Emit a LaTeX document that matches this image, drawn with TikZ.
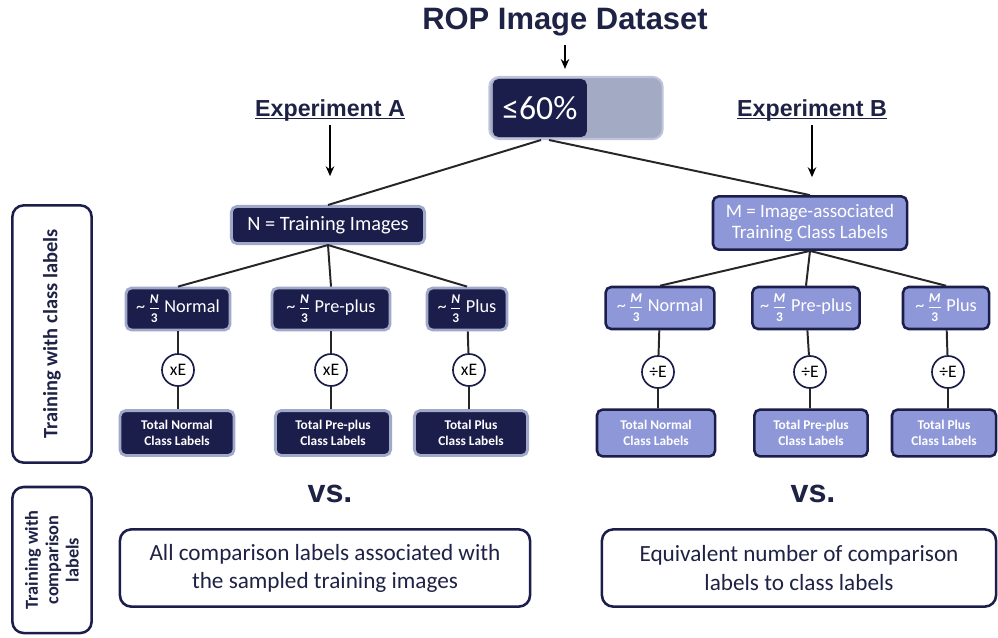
\documentclass[tikz,border=0pt]{standalone}
\usepackage{fontspec}
\setmainfont{Carlito}
\newfontfamily\headfont{Liberation Sans}
\usetikzlibrary{positioning,arrows.meta}

\definecolor{navy}{HTML}{1B1E4B}
\definecolor{lilac}{HTML}{8E98D8}
\definecolor{halo}{HTML}{A1A9CB}
\definecolor{greybar}{HTML}{A3AAC3}
\definecolor{inkblue}{HTML}{1E2245}

% approx. one third of a count, as a small stacked fraction
\newcommand{\thirdof}[1]{\textasciitilde\kern2pt$\frac{\hbox{\bfseries\fontsize{9.5}{9.5}\selectfont\itshape #1\rule[-2.5pt]{0pt}{0pt}}}{\hbox{\bfseries\fontsize{9.5}{9.5}\selectfont 3\rule{0pt}{10pt}}}$}
% underline that sits on the baseline
\newcommand{\headline}[1]{\underline{\raisebox{0pt}[\height][0pt]{#1}}}

\begin{document}
\begin{tikzpicture}[
    x=0.025cm, y=-0.025cm,
    darkbox/.style = {
        rectangle,
        draw=halo,
        line width=2pt,
        fill=navy,
        text=white,
        align=center,
        rounded corners=4pt,
        inner sep=2pt
    },
    lightbox/.style = {
        rectangle,
        draw=navy,
        line width=1.8pt,
        fill=lilac,
        text=white,
        align=center,
        rounded corners=4pt,
        inner sep=2pt
    },
    opcircle/.style = {
        circle,
        draw=navy,
        line width=1.2pt,
        fill=white,
        minimum size=0.8cm,
        inner sep=0pt,
        font=\fontsize{12.5}{14}\selectfont
    },
    framebox/.style = {
        rectangle,
        draw=navy,
        line width=1.8pt,
        fill=white,
        text=inkblue,
        align=center,
        rounded corners=8pt,
        inner sep=2pt
    },
    heading/.style = {
        text=inkblue,
        inner sep=1pt,
        font=\headfont\bfseries
    },
    link/.style = {
        line width=1.4pt,
        draw=black!85
    },
    arrow/.style = {
        -{Stealth[length=7pt,width=6pt]},
        line width=1.4pt,
        draw=black
    }
]
\useasboundingbox (0,0) rectangle (998,637);

% top of the split
\node (title) [heading, font=\headfont\bfseries\fontsize{22}{26}\selectfont] at (565,22) {ROP Image Dataset};

\node (pct) [rectangle, draw=halo!70, line width=1.5pt, fill=greybar, rounded corners=7pt,
    minimum width=4.33cm, minimum height=1.55cm] at (576,108) {};
\node (pctfill) [rectangle, fill=navy, rounded corners=4pt, anchor=west, text=white,
    minimum width=2.35cm, minimum height=1.45cm, inner sep=0pt,
    font=\fontsize{24}{28}\selectfont] at ([xshift=3pt]pct.west) {≤60\%};

\node (expA) [heading, font=\headfont\bfseries\fontsize{16.5}{20}\selectfont] at (330,109) {\headline{Experiment A}};
\node (expB) [heading, font=\headfont\bfseries\fontsize{16.5}{20}\selectfont] at (812,109) {\headline{Experiment B}};

\coordinate (splitL) at (541,140);
\coordinate (splitR) at (549,140);

% experiment A
\node (nimg) [darkbox, minimum width=4.83cm, minimum height=0.93cm,
    font=\fontsize{14.5}{17}\selectfont] at (328,225) {N = Training Images};

\node (nnorm) [darkbox, minimum width=2.6cm, minimum height=1.05cm,
    font=\fontsize{13}{15}\selectfont] at (178,309) {\thirdof{N} Normal};
\node (npre) [darkbox, minimum width=2.95cm, minimum height=1.05cm,
    font=\fontsize{13}{15}\selectfont] at (331,309) {\thirdof{N} Pre-plus};
\node (nplus) [darkbox, minimum width=2.0cm, minimum height=1.05cm,
    font=\fontsize{13}{15}\selectfont] at (467,309) {\thirdof{N} Plus};

\node (nxnorm) [opcircle] at (178,370) {xE};
\node (nxpre) [opcircle] at (331,370) {xE};
\node (nxplus) [opcircle] at (469,370) {xE};

\node (ntnorm) [darkbox, minimum width=2.85cm, minimum height=1.12cm,
    font=\bfseries\fontsize{9.5}{11}\selectfont] at (177,433) {Total Normal\\Class Labels};
\node (ntpre) [darkbox, minimum width=2.88cm, minimum height=1.12cm,
    font=\bfseries\fontsize{9.5}{11}\selectfont] at (333,433) {Total Pre-plus\\Class Labels};
\node (ntplus) [darkbox, minimum width=2.83cm, minimum height=1.12cm,
    font=\bfseries\fontsize{9.5}{11}\selectfont] at (471,433) {Total Plus\\Class Labels};

% experiment B
\node (mlab) [lightbox, minimum width=4.85cm, minimum height=1.33cm,
    font=\fontsize{13.5}{15.5}\selectfont] at (810,223) {M = Image-associated\\Training Class Labels};

\node (mnorm) [lightbox, minimum width=2.72cm, minimum height=1.05cm,
    font=\fontsize{13}{15}\selectfont] at (660,308) {\thirdof{M} Normal};
\node (mpre) [lightbox, minimum width=2.68cm, minimum height=1.05cm,
    font=\fontsize{13}{15}\selectfont] at (806,308) {\thirdof{M} Pre-plus};
\node (mplus) [lightbox, minimum width=2.15cm, minimum height=1.05cm,
    font=\fontsize{13}{15}\selectfont] at (946,308) {\thirdof{M} Plus};

\node (mxnorm) [opcircle] at (658,372) {÷E};
\node (mxpre) [opcircle] at (810,372) {÷E};
\node (mxplus) [opcircle] at (948,372) {÷E};

\node (mtnorm) [lightbox, minimum width=2.95cm, minimum height=1.17cm,
    font=\bfseries\fontsize{9.5}{11}\selectfont] at (656,433) {Total Normal\\Class Labels};
\node (mtpre) [lightbox, minimum width=2.83cm, minimum height=1.17cm,
    font=\bfseries\fontsize{9.5}{11}\selectfont] at (811,433) {Total Pre-plus\\Class Labels};
\node (mtplus) [lightbox, minimum width=2.6cm, minimum height=1.17cm,
    font=\bfseries\fontsize{9.5}{11}\selectfont] at (944,433) {Total Plus\\Class Labels};

% comparison labels
\node (vsA) [heading, font=\headfont\bfseries\fontsize{23}{26}\selectfont] at (330,494) {vs.};
\node (vsB) [heading, font=\headfont\bfseries\fontsize{23}{26}\selectfont] at (813,494) {vs.};

\node (cmpA) [framebox, minimum width=10.25cm, minimum height=1.93cm,
    font=\fontsize{16.5}{20}\selectfont] at (325,568) {All comparison labels associated with\\the sampled training images};
\node (cmpB) [framebox, minimum width=9.85cm, minimum height=1.93cm,
    font=\fontsize{16.5}{20}\selectfont] at (799,568) {Equivalent number of comparison\\labels to class labels};

% row labels
\node (rowclass) [framebox, rotate=90, minimum width=6.43cm, minimum height=1.98cm,
    font=\bfseries\fontsize{14.5}{17}\selectfont] at (52,334) {Training with class labels};
\node (rowcmp) [framebox, rotate=90, minimum width=3.65cm, minimum height=1.98cm,
    font=\bfseries\fontsize{13}{14.5}\selectfont] at (52,560) {Training with\\comparison\\labels};

% connectors
\draw [arrow, shorten <=5pt, shorten >=5pt] (title.south) -- (title.south |- pct.north);
\draw [arrow, shorten <=3pt, shorten >=0.72cm] (expA) -- (expA |- nimg.north);
\draw [arrow, shorten <=3pt, shorten >=0.45cm] (expB) -- (expB |- mlab.north);

\draw [link] (splitL) -- (nimg.north);
\draw [link] (splitR) -- (mlab.north);

\draw [link] (nimg.south) -- (nnorm.north);
\draw [link] (nimg.south) -- (npre.north);
\draw [link] (nimg.south) -- (nplus.north);
\draw [link] (nnorm) -- (nxnorm) -- (ntnorm.north -| nxnorm);
\draw [link] (npre) -- (nxpre) -- (ntpre.north -| nxpre);
\draw [link] (nplus) -- (nxplus) -- (ntplus.north -| nxplus);

\draw [link] (mlab.south) -- (mnorm.north);
\draw [link] (mlab.south) -- (mpre.north);
\draw [link] (mlab.south) -- (mplus.north);
\draw [link] (mnorm) -- (mxnorm) -- (mtnorm.north -| mxnorm);
\draw [link] (mpre) -- (mxpre) -- (mtpre.north -| mxpre);
\draw [link] (mplus) -- (mxplus) -- (mtplus.north -| mxplus);

\end{tikzpicture}
\end{document}
